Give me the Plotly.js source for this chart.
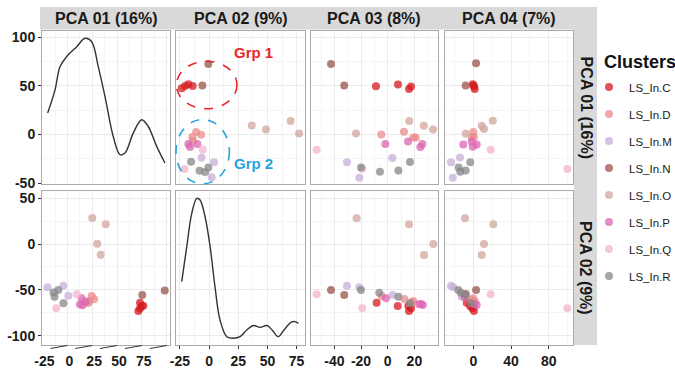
<!DOCTYPE html>
<html><head><meta charset="utf-8">
<script src="https://cdn.plot.ly/plotly-3.0.1.min.js"></script>
<style>html,body{margin:0;padding:0;background:#fff}</style>
</head><body><div id="chart" style="width:675px;height:371px"></div>
<script>
// ---------- DATA ----------
const clusters = ['C','D','M','N','O','P','Q','R'];
const clusterNames = ['LS_In.C','LS_In.D','LS_In.M','LS_In.N','LS_In.O','LS_In.P','LS_In.Q','LS_In.R'];
const clusterColors = ['#d61b20','#eb8b8b','#c7afda','#96564b','#d0a69b','#dc66b2','#f3b4cb','#878787'];

const colTitles = ['PCA 01 (16%)','PCA 02 (9%)','PCA 03 (8%)','PCA 04 (7%)'];
const rowTitles = ['PCA 01 (16%)','PCA 02 (9%)'];

const colTicks = [[-25,0,25,50,75],[-25,0,25,50,75],[-40,-20,0,20],[0,40,80]];
const rowTicks = [[-50,0,50,100],[-100,-50,0,50]];

// density curves (diagonal panels)
const dens1_x = [-44.9,-37.5,-32.5,-25.8,-15.7,-7.3,-0.6,6.0,12.8,21.1,27.9,32.9,41.2,49.7,56.3,64.8,73.1];
const dens1_y = [22.0,45.9,69.8,80.1,90.3,99.0,95.5,69.8,39.0,-2.1,-20.8,-19.1,1.4,15.1,8.2,-12.3,-29.4];
const dens6_x = [-23.4,-19.1,-14.8,-10.5,-7.7,-3.4,0.9,5.1,9.4,15.2,20.8,26.5,32.3,37.9,43.7,49.7,54.0,59.3,64.2,70.8,73.6,76.5];
const dens6_y = [-41.0,-2.8,33.6,50.0,48.1,29.9,-2.8,-46.5,-82.9,-101.1,-102.8,-101.1,-93.8,-88.9,-91.0,-88.9,-93.8,-101.1,-93.8,-85.0,-84.7,-86.5];

// row 1, col 2 : PCA 02 (x) vs PCA 01 (y)
const p2_c = ['N','N','C','C','C','C','O','O','O','O','D','D','D','D','P','P','P','Q','Q','M','M','M','R','R','R','R'];
const p2_x = [-0.6,-5.7,-23.4,-20.5,-17.7,-14.0,36.6,48.8,69.9,77.1,-11.1,-6.8,-14.3,-13.7,-17.7,-16.3,-10.0,-5.4,-21.1,-6.4,4.3,2.3,-15.4,-8.1,-3.4,-0.6];
const p2_y = [72.6,50.3,47.6,50.0,51.7,50.0,9.2,5.1,13.8,1.0,2.5,-0.3,-2.7,-6.5,-9.9,-12.9,-9.9,-15.7,-35.5,-23.9,-28.5,-44.1,-28.0,-37.3,-38.6,-33.9];

// row 1, col 3 : PCA 03 (x) vs PCA 01 (y)
const p3_c = ['N','N','C','C','C','C','O','O','O','O','D','D','D','D','P','P','P','P','Q','Q','M','M','M','R','R','R','R'];
const p3_x = [-42.5,-32.6,-8.8,7.7,16.0,17.5,16.2,27.0,34.0,-23.8,-4.8,12.2,19.2,21.0,-1.8,15.2,26.0,24.5,-53.3,-19.1,-30.5,3.5,-21.3,-20.0,-5.8,8.0,16.7];
const p3_y = [72.6,50.3,49.7,51.3,46.9,49.3,13.8,8.9,5.1,1.0,0.0,2.8,-3.1,-3.1,-9.9,-7.2,-9.9,-12.9,-15.7,-35.2,-28.7,-24.2,-44.5,-33.9,-38.3,-37.0,-28.3];

// row 1, col 4 : PCA 04 (x) vs PCA 01 (y)
const p4_c = ['N','N','C','C','C','C','O','O','O','O','D','D','D','P','P','P','P','Q','Q','M','M','M','R','R','R','R'];
const p4_x = [2.9,-8.1,-0.6,0.7,1.5,0.2,20.6,8.9,11.3,-8.1,0.0,0.7,-1.7,-10.6,-1.7,3.6,-0.6,18.4,99.6,-14.1,-23.6,-21.8,-3.2,-15.5,-13.8,-8.1];
const p4_y = [73.3,50.3,51.7,49.3,46.9,50.5,14.1,8.9,5.5,0.7,2.5,-2.7,-2.7,-10.3,-7.2,-10.3,-12.6,-15.7,-35.5,-23.6,-28.7,-44.5,-28.7,-33.9,-38.3,-37.0];

// row 2, col 1 : PCA 01 (x) vs PCA 02 (y)
const p5_c = ['O','O','O','O','M','M','M','R','R','R','R','Q','Q','P','P','P','P','D','D','D','D','N','N','C','C','C','C','C'];
const p5_x = [0.0,13.5,5.0,8.5,-45.1,-29.2,-24.1,-39.0,-34.2,-38.0,-29.0,-15.7,-36.2,-10.7,-12.4,-9.7,-6.8,-0.6,1.9,-3.0,-4.0,50.3,72.9,48.0,49.7,51.3,48.0,46.3];
const p5_y = [28.5,21.6,0.4,-11.6,-47.2,-45.4,-56.3,-52.8,-50.1,-57.4,-64.6,-54.7,-70.1,-59.2,-65.9,-66.7,-62.9,-56.7,-60.2,-62.1,-64.3,-55.6,-50.7,-64.0,-67.6,-67.2,-70.3,-73.0];

// row 2, col 3 : PCA 03 (x) vs PCA 02 (y)
const p7_c = ['O','O','O','O','Q','Q','N','N','M','M','M','R','R','R','R','D','D','D','D','P','P','P','P','C','C','C','C','C'];
const p7_x = [-23.3,16.0,34.2,27.2,-53.3,-19.1,-42.5,-32.6,-30.5,-21.3,3.8,-20.0,-6.3,8.0,16.7,-4.5,12.5,19.2,17.9,-1.3,23.5,26.3,25.0,-8.3,7.5,17.5,16.0,15.5];
const p7_y = [28.2,21.6,0.1,-11.9,-54.8,-70.1,-50.1,-55.6,-45.4,-47.2,-55.6,-50.1,-53.1,-57.4,-64.6,-56.7,-59.9,-62.1,-63.8,-59.2,-65.7,-66.5,-65.4,-64.0,-67.6,-70.1,-73.0,-67.6];

// row 2, col 4 : PCA 04 (x) vs PCA 02 (y)
const p8_c = ['O','O','O','O','Q','Q','M','M','M','R','R','R','R','N','N','D','D','D','P','P','P','C','C','C','C','C'];
const p8_x = [-8.8,21.2,11.3,8.9,18.4,99.6,-23.6,-21.2,-12.3,-15.9,-13.3,-8.1,-2.4,2.9,-8.1,0.0,-1.7,1.8,-9.5,3.6,0.7,-7.0,-3.5,-1.1,0.7,0.0];
const p8_y = [28.2,21.6,0.1,-11.9,-54.8,-70.1,-45.4,-47.2,-57.4,-50.1,-53.1,-55.6,-64.6,-50.1,-54.5,-59.2,-61.0,-62.9,-58.1,-66.5,-65.4,-64.0,-67.6,-70.1,-73.0,-67.6];

// ---------- LAYOUT ----------
const W = 675, H = 371;
const FONT = '"Liberation Sans", Arial, Helvetica, sans-serif';
const colPx = [[42,170],[176,305],[311,438],[445,573]];
const rowPx = [[31,184],[191,345]];
const colRange = [[-50.6,78.2],[-28.3,82.2],[-57.5,37.7],[-30,105.6]];
const rowRange = [[-51,106.5],[-110.2,58]];

const px2x = v => v / W;
const px2y = v => 1 - v / H;
function minorOf(t){
  const s = t[1]-t[0]; const out=[t[0]-s/2];
  t.forEach(v=>out.push(v+s/2)); return out;
}
const axId = p => p===1 ? '' : String(p);

const layout = {
  width: W, height: H, autosize: false,
  margin: {l:0, r:0, t:0, b:0, autoexpand:false},
  paper_bgcolor: '#fff', plot_bgcolor: '#fff',
  font: {family: FONT, color: '#1a1a1a'},
  showlegend: true,
  legend: {
    x: 589/W, y: px2y(72.5), xanchor: 'left', yanchor: 'top',
    font: {family: FONT, size: 11.5, color: '#1a1a1a'},
    tracegroupgap: 8, itemwidth: 30, bgcolor: 'rgba(0,0,0,0)', borderwidth: 0
  },
  shapes: [], annotations: []
};

for (let r=0;r<2;r++){
  for (let c=0;c<4;c++){
    const p = r*4+c+1, id = axId(p);
    const xa = {
      domain: [px2x(colPx[c][0]), px2x(colPx[c][1])],
      range: colRange[c], anchor: 'y'+id,
      tickmode: 'array', tickvals: colTicks[c], ticktext: colTicks[c].map(String),
      showgrid: true, gridcolor: '#ebebeb', gridwidth: 1, zeroline: false,
      showline: true, mirror: true, linecolor: '#a9a9a9', linewidth: 1,
      minor: {tickmode:'array', tickvals: minorOf(colTicks[c]), showgrid:true, gridcolor:'#f5f5f5', ticks:''},
      fixedrange: true
    };
    if (r===1){
      Object.assign(xa, {ticks:'outside', ticklen:3, tickwidth:1, tickcolor:'#333', showticklabels:true,
        tickfont:{family:FONT, size:14, weight:700, color:'#1a1a1a'}});
      if (c===0){ xa.tickcolor = 'rgba(0,0,0,0)'; xa.ticklabelshift = -23; }
    } else { Object.assign(xa, {ticks:'', showticklabels:false}); }
    const ya = {
      domain: [px2y(rowPx[r][1]), px2y(rowPx[r][0])],
      range: rowRange[r], anchor: 'x'+id,
      tickmode: 'array', tickvals: rowTicks[r], ticktext: rowTicks[r].map(String),
      showgrid: true, gridcolor: '#ebebeb', gridwidth: 1, zeroline: false,
      showline: true, mirror: true, linecolor: '#a9a9a9', linewidth: 1,
      minor: {tickmode:'array', tickvals: minorOf(rowTicks[r]), showgrid:true, gridcolor:'#f5f5f5', ticks:''},
      fixedrange: true
    };
    if (c===0){
      Object.assign(ya, {ticks:'outside', ticklen:3, tickwidth:1, tickcolor:'#333', showticklabels:true,
        tickfont:{family:FONT, size:14, weight:700, color:'#1a1a1a'}});
    } else { Object.assign(ya, {ticks:'', showticklabels:false}); }
    layout['xaxis'+id] = xa;
    layout['yaxis'+id] = ya;
  }
}

// strips
layout.shapes.push({type:'rect', xref:'paper', yref:'paper', x0:px2x(40), x1:px2x(597), y0:px2y(29.5), y1:px2y(7),
  fillcolor:'#d9d9d9', line:{width:0}, layer:'below'});
layout.shapes.push({type:'rect', xref:'paper', yref:'paper', x0:px2x(574), x1:px2x(597), y0:px2y(345), y1:px2y(7),
  fillcolor:'#d9d9d9', line:{width:0}, layer:'below'});
colTitles.forEach((t,c)=>layout.annotations.push({text:t, xref:'paper', yref:'paper',
  x:px2x((colPx[c][0]+colPx[c][1])/2), y:px2y(18.5), xanchor:'center', yanchor:'middle', showarrow:false,
  font:{family:FONT, size:16, weight:700, color:'#1a1a1a'}}));
rowTitles.forEach((t,r)=>layout.annotations.push({text:t, xref:'paper', yref:'paper', textangle:90,
  x:px2x(586), y:px2y((rowPx[r][0]+rowPx[r][1])/2), xanchor:'center', yanchor:'middle', showarrow:false,
  font:{family:FONT, size:16, weight:700, color:'#1a1a1a'}}));

// legend title
layout.annotations.push({text:'Clusters', xref:'paper', yref:'paper', x:px2x(602), y:px2y(62), xanchor:'left', yanchor:'middle',
  showarrow:false, font:{family:FONT, size:18, weight:700, color:'#111'}});

// slanted tick marks under column 1
colTicks[0].forEach(v=>layout.shapes.push({type:'line', xref:'x5', xsizemode:'pixel', xanchor:v, x0:-17, x1:0,
  yref:'paper', ysizemode:'pixel', yanchor:px2y(345), y0:-3.5, y1:-0.5, line:{color:'#333', width:1}}));

// group ellipses + labels
layout.shapes.push({type:'circle', xref:'paper', yref:'paper', x0:px2x(176.4), x1:px2x(237), y0:px2y(108.7), y1:px2y(61.3),
  line:{color:'#e8262b', width:1.6, dash:'dash'}});
layout.shapes.push({type:'circle', xref:'paper', yref:'paper', x0:px2x(176), x1:px2x(229.4), y0:px2y(183.9), y1:px2y(119.5),
  line:{color:'#27a4dd', width:1.6, dash:'dash'}});
layout.annotations.push({text:'Grp 1', xref:'paper', yref:'paper', x:px2x(253.5), y:px2y(53), xanchor:'center', yanchor:'middle',
  showarrow:false, font:{family:FONT, size:15, weight:700, color:'#e8262b'}});
layout.annotations.push({text:'Grp 2', xref:'paper', yref:'paper', x:px2x(253.5), y:px2y(163.5), xanchor:'center', yanchor:'middle',
  showarrow:false, font:{family:FONT, size:15, weight:700, color:'#27a4dd'}});

// ---------- TRACES ----------
const traces = [];
traces.push({type:'scatter', mode:'lines', x:dens1_x, y:dens1_y, xaxis:'x', yaxis:'y',
  line:{color:'#333', width:1.4, shape:'spline', smoothing:1}, showlegend:false, hoverinfo:'skip'});
traces.push({type:'scatter', mode:'lines', x:dens6_x, y:dens6_y, xaxis:'x6', yaxis:'y6',
  line:{color:'#333', width:1.4, shape:'spline', smoothing:1}, showlegend:false, hoverinfo:'skip'});

const panels = [
  {id:2, c:p2_c, x:p2_x, y:p2_y},
  {id:3, c:p3_c, x:p3_x, y:p3_y},
  {id:4, c:p4_c, x:p4_x, y:p4_y},
  {id:5, c:p5_c, x:p5_x, y:p5_y},
  {id:7, c:p7_c, x:p7_x, y:p7_y},
  {id:8, c:p8_c, x:p8_x, y:p8_y}
];
panels.forEach((pn,pi)=>{
  clusters.forEach((cl,k)=>{
    const xs=[], ys=[];
    pn.c.forEach((v,i)=>{ if(v===cl){ xs.push(pn.x[i]); ys.push(pn.y[i]); } });
    traces.push({type:'scatter', mode:'markers', x:xs, y:ys, xaxis:'x'+pn.id, yaxis:'y'+pn.id,
      name: clusterNames[k], legendgroup: cl, showlegend: pi===0,
      marker:{size:8, color:clusterColors[k], opacity:0.75}});
  });
});

Plotly.newPlot('chart', traces, layout, {staticPlot:true, displayModeBar:false});
</script></body></html>
